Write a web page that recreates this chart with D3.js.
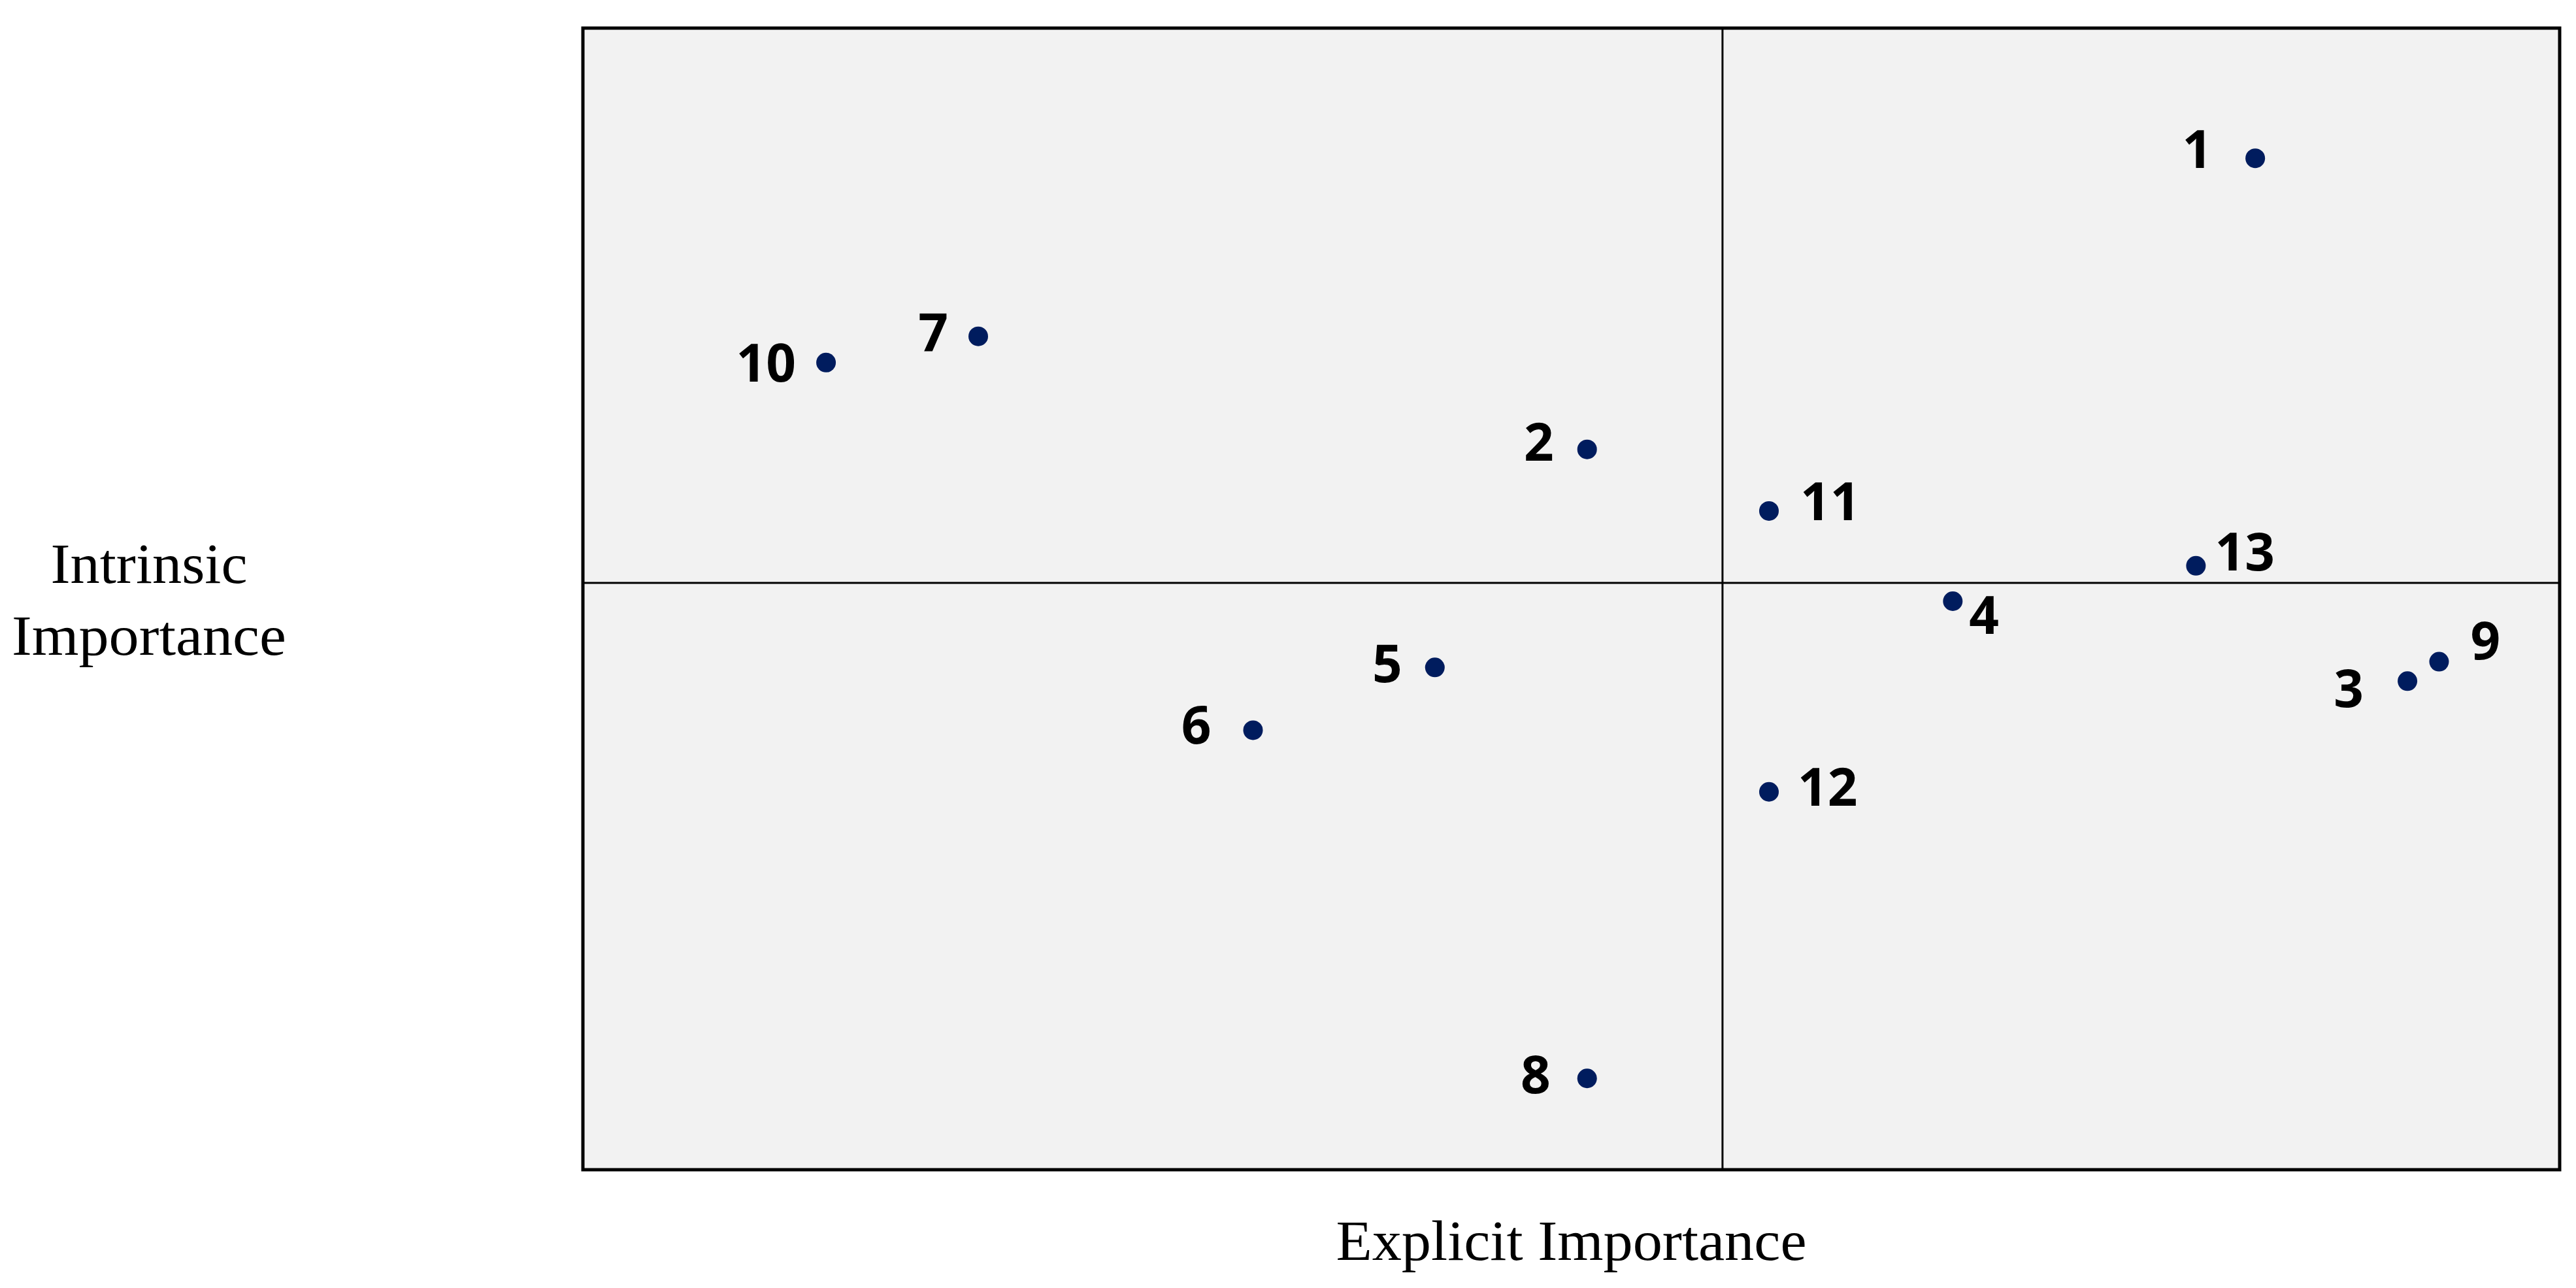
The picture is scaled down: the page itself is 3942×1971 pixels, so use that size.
<!DOCTYPE html>
<html>
<head>
<meta charset="utf-8">
<script src="https://cdn.jsdelivr.net/npm/d3@7"></script>
<style>
  html, body { margin: 0; padding: 0; background: #fff; }
  svg { display: block; }
</style>
</head>
<body>
<svg id="chart" width="3942" height="1971"></svg>
<script>
"use strict";

//data

const ids = [1, 2, 3, 4, 5, 6, 7, 8, 9, 10, 11, 12, 13];
const explicitValues = [84.6, 50.8, 92.3, 69.3, 43.1, 33.9, 20.0, 50.8, 93.9, 12.3, 60.0, 60.0, 81.6];
const intrinsicValues = [88.6, 63.1, 42.8, 49.8, 44.0, 38.5, 73.0, 8.0, 44.5, 70.7, 57.7, 33.1, 52.9];
const xDomain = [0, 100];
const yDomain = [0, 100];
const xSplit = 57.65;
const ySplit = 51.4;
const xTitle = "Explicit Importance";
const yTitle = ["Intrinsic", "Importance"];

//label placement (anchor, dx, dy)

const labelPlace = [
  ["end", -66, 15], ["end", -51, 17], ["end", -67, 40], ["start", 25, 50],
  ["end", -50, 23], ["end", -64, 21], ["end", -46, 23], ["end", -56, 23],
  ["start", 48, -4], ["end", -46, 29], ["start", 48, 14], ["start", 44, 21],
  ["start", 29, 7]
];

//layout

const frame = { left: 892, top: 43, right: 3917, bottom: 1790 };

const svg = d3.select("#chart");

//scales

const x = d3.scaleLinear().domain(xDomain).range([frame.left, frame.right]);
const y = d3.scaleLinear().domain(yDomain).range([frame.bottom, frame.top]);

//background

svg.append("rect")
  .attr("x", x(xDomain[0]))
  .attr("y", y(yDomain[1]))
  .attr("width", x(xDomain[1]) - x(xDomain[0]))
  .attr("height", y(yDomain[0]) - y(yDomain[1]))
  .attr("fill", "#f2f2f2");

//quadrant lines

svg.append("line")
  .attr("x1", x(xSplit)).attr("x2", x(xSplit))
  .attr("y1", y(yDomain[0])).attr("y2", y(yDomain[1]))
  .attr("stroke", "#000").attr("stroke-width", 3);

svg.append("line")
  .attr("x1", x(xDomain[0])).attr("x2", x(xDomain[1]))
  .attr("y1", y(ySplit)).attr("y2", y(ySplit))
  .attr("stroke", "#000").attr("stroke-width", 3);

//frame

svg.append("rect")
  .attr("x", x(xDomain[0]))
  .attr("y", y(yDomain[1]))
  .attr("width", x(xDomain[1]) - x(xDomain[0]))
  .attr("height", y(yDomain[0]) - y(yDomain[1]))
  .attr("fill", "none")
  .attr("stroke", "#000")
  .attr("stroke-width", 5);

//points

const points = ids.map((id, i) => ({
  id,
  ex: explicitValues[i],
  in: intrinsicValues[i],
  place: labelPlace[i]
}));

svg.selectAll("circle.pt")
  .data(points)
  .enter()
  .append("circle")
  .attr("class", "pt")
  .attr("cx", (d) => x(d.ex))
  .attr("cy", (d) => y(d.in))
  .attr("r", 15)
  .attr("fill", "#001c5e");

svg.selectAll("text.lbl")
  .data(points)
  .enter()
  .append("text")
  .attr("class", "lbl")
  .attr("x", (d) => x(d.ex) + d.place[1])
  .attr("y", (d) => y(d.in) + d.place[2])
  .attr("text-anchor", (d) => d.place[0])
  .attr("font-family", "'Noto Sans', 'Open Sans', sans-serif")
  .attr("font-weight", 700)
  .attr("font-size", 80)
  .attr("fill", "#000")
  .text((d) => d.id);

//axis titles

const serif = "'Palatino Linotype', Palatino, 'Book Antiqua', 'Liberation Serif', serif";

svg.append("text")
  .attr("x", (frame.left + frame.right) / 2)
  .attr("y", 1928)
  .attr("text-anchor", "middle")
  .attr("font-family", serif)
  .attr("font-size", 86)
  .attr("textLength", 720)
  .attr("lengthAdjust", "spacingAndGlyphs")
  .text(xTitle);

svg.selectAll("text.ytitle")
  .data(yTitle)
  .enter()
  .append("text")
  .attr("class", "ytitle")
  .attr("x", 228)
  .attr("y", (d, i) => 892 + i * 110)
  .attr("text-anchor", "middle")
  .attr("font-family", serif)
  .attr("font-size", 86)
  .attr("textLength", (d, i) => i === 0 ? 301 : 420)
  .attr("lengthAdjust", "spacingAndGlyphs")
  .text((d) => d);
</script>
</body>
</html>
